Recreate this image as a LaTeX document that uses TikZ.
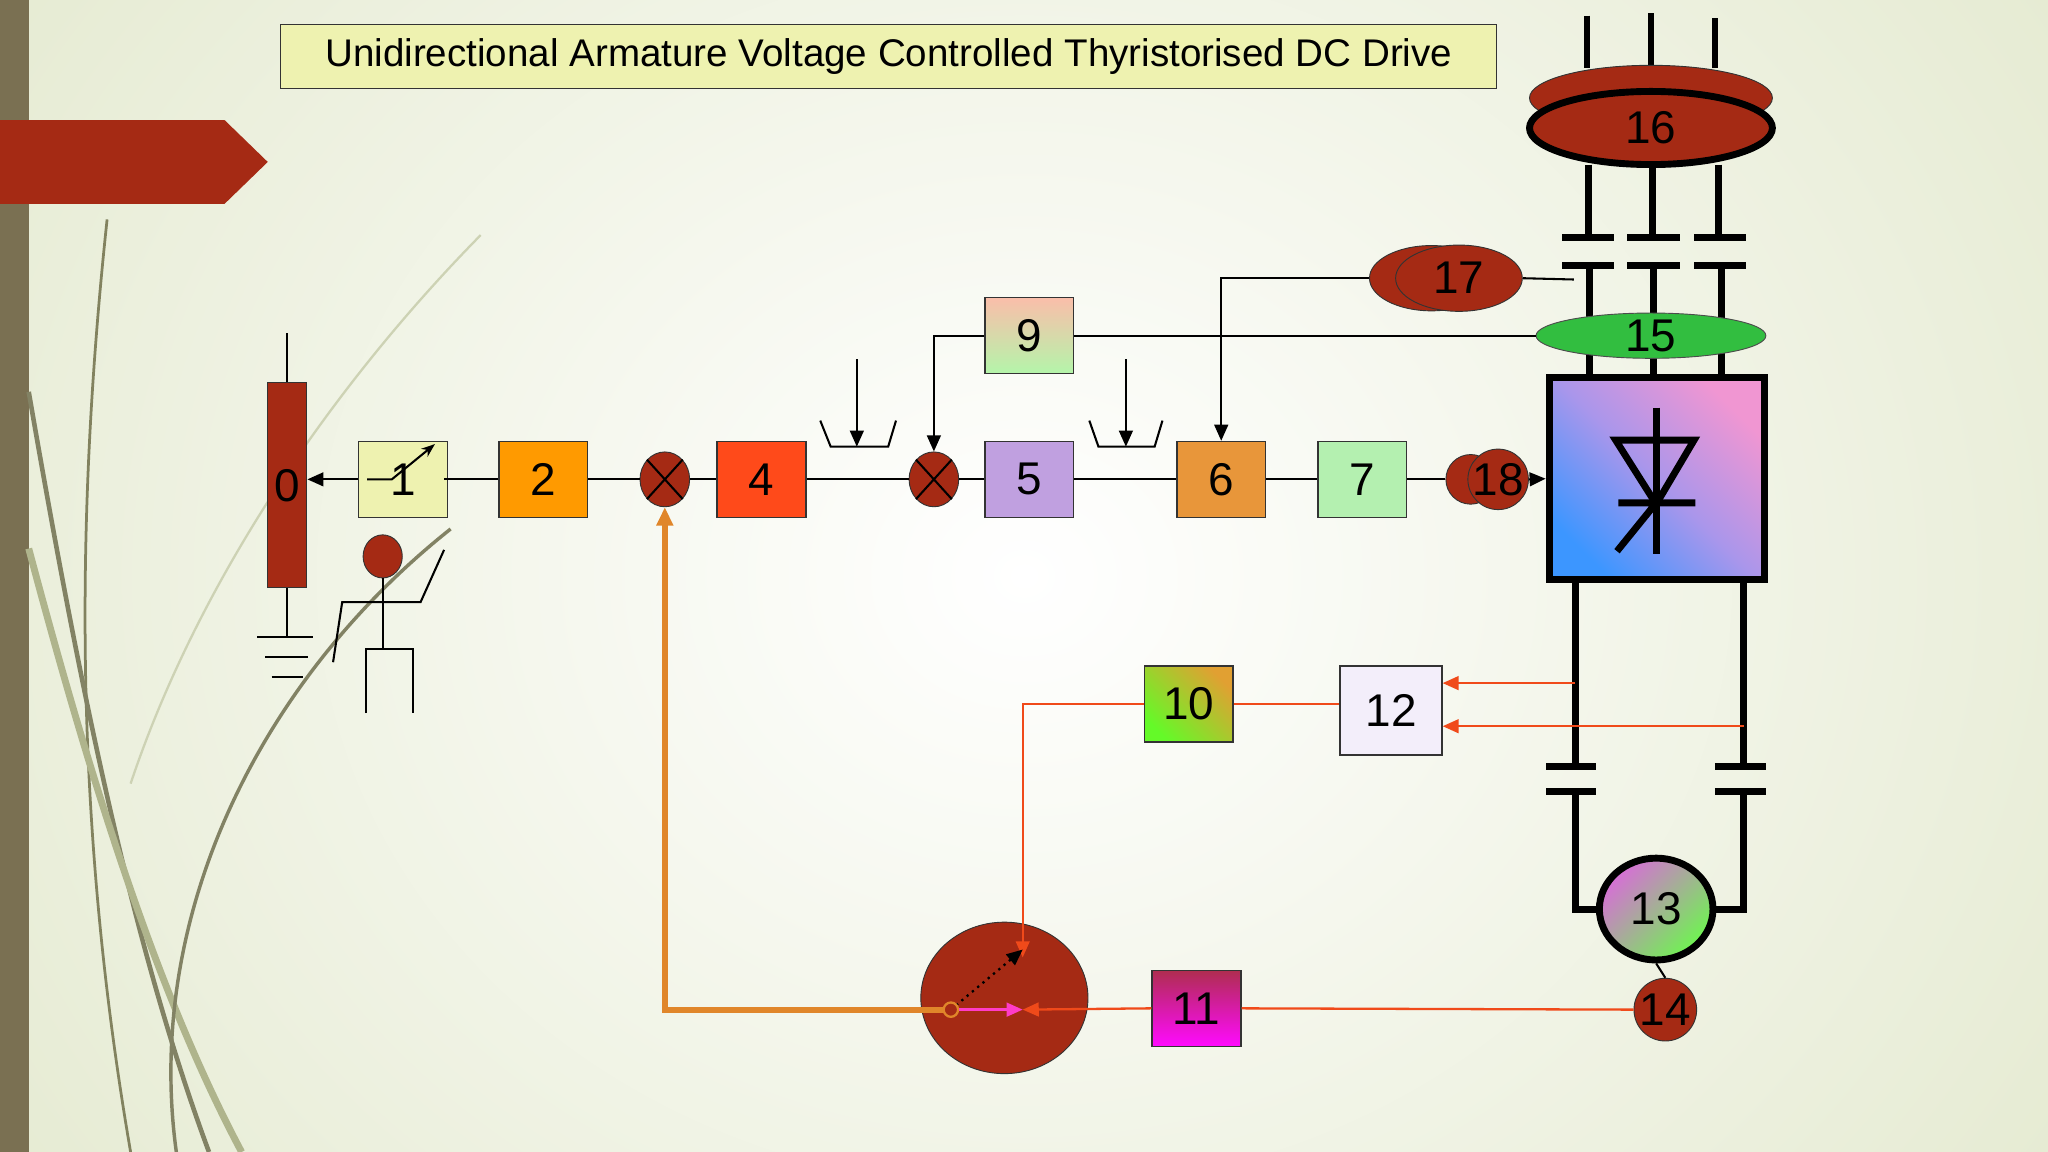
\documentclass[tikz,border=0pt]{standalone}
\usepackage{fontspec}
\setmainfont{Liberation Sans}
\usetikzlibrary{arrows.meta,shapes.geometric}
\definecolor{brn}{HTML}{A52A14}
\definecolor{pale}{HTML}{EEF2B0}
\definecolor{red2}{HTML}{F04A1A}
\definecolor{org}{HTML}{E0862A}
\definecolor{pnk}{HTML}{FF3CC8}
\definecolor{bgo}{HTML}{E2E8CC}
\begin{document}
\begin{tikzpicture}[x=0.02cm,y=-0.02cm,
 box/.style={draw=black!80,line width=0.6pt,minimum width=1.36cm,minimum height=1.16cm,inner sep=0pt,font=\fontsize{20}{22}\selectfont},
 sum/.style={ellipse,draw=black!80,fill=brn,minimum width=0.76cm,minimum height=0.84cm,inner sep=0pt},
 ln/.style={line width=0.9pt},
 thk/.style={line width=3pt},
 rl/.style={red2,line width=1pt},
 ar/.style={-{Triangle[length=7pt,width=6pt]}},
 num/.style={font=\fontsize{20}{22}\selectfont}]
\useasboundingbox (0,0) rectangle (1568,882);
\shade[inner color=white,outer color=bgo] (-300,-500) rectangle (1868,1382);
\fill[color={rgb,255:red,122;green,112;blue,82}] (0,0) rectangle (22,882);
% decorative curves
\draw[color={rgb,255:red,130;green,130;blue,95},line width=1.2pt] (82,168) .. controls (55,420) and (60,650) .. (100,882);
\draw[color={rgb,255:red,130;green,130;blue,100},line width=2pt] (22,300) .. controls (60,520) and (100,720) .. (160,882);
\draw[color={rgb,255:red,175;green,180;blue,140},line width=3pt] (22,420) .. controls (70,600) and (120,760) .. (185,882);
\draw[color={rgb,255:red,130;green,130;blue,100},line width=1.5pt] (345,405) .. controls (200,520) and (110,700) .. (135,882);
\draw[color={rgb,255:red,205;green,210;blue,180},line width=1pt] (368,180) .. controls (250,300) and (150,450) .. (100,600);
\fill[brn] (0,92) -- (172,92) -- (205,124) -- (172,156) -- (0,156) -- cycle;
% title
\node[draw=black!80,fill=pale,minimum width=18.62cm,minimum height=0.98cm,font=\fontsize{16.8}{18}\selectfont] (title) at (680.5,43.5) {Unidirectional Armature Voltage Controlled Thyristorised DC Drive};
% block 0
\node[draw=black!80,fill=brn,minimum width=0.6cm,minimum height=3.14cm,inner sep=0pt,num] (b0) at (220,371.5) {0};
\coordinate (b0t) at (220,255); \coordinate (b0g) at (220,488);
\draw[ln] (b0.north) -- (b0t); \draw[ln] (b0.south) -- (b0g);
\draw[ln] (197,488) -- (240,488) (203,503) -- (236,503) (208,518) -- (232,518);
% person
\node[ellipse,draw=black!80,fill=brn,minimum width=0.6cm,minimum height=0.66cm,inner sep=0pt] (head) at (293,426) {};
\draw[ln] (head.south) -- (293,497);
\draw[ln] (255,507) -- (262,461) -- (322,461) -- (340,421);
\draw[ln] (280,546) -- (280,497) -- (316,497) -- (316,546);
% boxes
\node[box,fill=pale] (b1) at (308.5,367) {1};
\draw[ln,-{Stealth[length=6pt]}] (281,367) -- (300,367) -- (333,340);
\draw[ln] (340,367) -- (352,367);
\node[box,fill={rgb,255:red,255;green,154;blue,0}] (b2) at (416,367) {2};
\node[sum] (s1) at (509,367) {};
\draw[ln] (s1.north west) -- (s1.south east) (s1.north east) -- (s1.south west);
\node[box,fill={rgb,255:red,255;green,74;blue,26}] (b4) at (583,367) {4};
\node[sum] (s2) at (715,367) {};
\draw[ln] (s2.north west) -- (s2.south east) (s2.north east) -- (s2.south west);
\node[box,top color={rgb,255:red,250;green,190;blue,170},bottom color={rgb,255:red,180;green,245;blue,170}] (b9) at (788,257) {9};
\node[box,fill={rgb,255:red,192;green,160;blue,224}] (b5) at (788,367) {5};
\node[box,fill={rgb,255:red,232;green,150;blue,58}] (b6) at (935,367) {6};
\node[box,fill={rgb,255:red,180;green,240;blue,176}] (b7) at (1043,367) {7};
% 18
\node[circle,draw=black!80,fill=brn,minimum size=0.76cm,inner sep=0pt] (c18a) at (1126,367) {};
\node[circle,draw=black!80,fill=brn,minimum size=0.76cm,inner sep=0pt,num] (c18) at (1147,367) {18};
% thyristor box
\node[draw=black,line width=3pt,minimum width=3.3cm,minimum height=3.1cm,inner sep=0pt,
 top color={rgb,255:red,240;green,150;blue,210},bottom color={rgb,255:red,60;green,150;blue,255},middle color={rgb,255:red,170;green,150;blue,235},shading angle=-45] (th) at (1268.5,366.5) {};
\draw[thk] (1268,312) -- (1268,424);
\draw[thk,line join=miter] (1237,337) -- (1297,337) -- (1268,386) -- cycle;
\draw[thk] (1239,385) -- (1298,385) (1268,385) -- (1238,422);
% signal chain
\draw[ln,ar] (b1.west) -- (b1.west -| b0.east);
\draw[ln] (b1.east) -- (b2.west) (b2.east) -- (s1.west) (s1.east) -- (b4.west) (b4.east) -- (s2.west) (s2.east) -- (b5.west) (b5.east) -- (b6.west) (b6.east) -- (b7.west) (b7.east) -- (c18a.west);
\draw[ln,ar] (c18.east) -- (th.west);
% limiters
\coordinate (l1) at (656,275); \coordinate (l1b) at (656,342);
\draw[ln] (628,322) -- (636,342) -- (680,342) -- (686,322);
\draw[ln,ar] (l1) -- (l1b);
\coordinate (l2) at (862,275); \coordinate (l2b) at (862,342);
\draw[ln] (834,322) -- (841,342) -- (884,342) -- (890,322);
\draw[ln,ar] (l2) -- (l2b);
% 9 to sum2
\draw[ln,ar] (b9.west) -| (s2.north);
% upper supply
\draw[thk] (1215,12) -- (1215,52) (1264,10) -- (1264,52) (1313,14) -- (1313,52);
\node[ellipse,draw=black!80,fill=brn,minimum width=3.72cm,minimum height=1.0cm] (e16b) at (1264,75) {};
\node[ellipse,draw=black,line width=3pt,fill=brn,minimum width=3.72cm,minimum height=1.12cm,num] (e16) at (1264,98) {16};
\draw[thk] (1216,126) -- (1216,182) (1265,126) -- (1265,182) (1316,126) -- (1316,182);
\draw[thk] (1196,182) -- (1236,182) (1246,182) -- (1286,182) (1297,182) -- (1337,182);
\draw[thk] (1196,203) -- (1236,203) (1246,203) -- (1286,203) (1297,203) -- (1337,203);
\draw[thk] (1217,203) -- (1217,289) (1266,203) -- (1266,289) (1318,203) -- (1318,289);
\node[ellipse,draw=black!70,fill={rgb,255:red,50;green,190;blue,64},minimum width=3.52cm,minimum height=0.58cm,inner sep=0pt,num] (e15) at (1264,257) {15};
\draw[ln] (b9.east) -- (e15.west);
% 17
\node[ellipse,draw=black!80,fill=brn,minimum width=1.9cm,minimum height=1.0cm] (e17b) at (1096,213) {};
\node[ellipse,draw=black!80,fill=brn,minimum width=1.94cm,minimum height=1.0cm,num] (e17) at (1117,213) {17};
\coordinate (e17r) at (1205,214);
\draw[ln] (e17.east) -- (e17r);
\draw[ln,ar] (e17b.west) -| (b6.north);
% DC side
\draw[thk] (1206,444) -- (1206,585) (1335,444) -- (1335,585);
\draw[thk] (1184,587) -- (1222,587) (1313,587) -- (1352,587);
\draw[thk] (1184,606) -- (1222,606) (1313,606) -- (1352,606);
\node[ellipse,draw=black,line width=3pt,minimum width=1.74cm,minimum height=1.56cm,inner sep=0pt,num,
 top color={rgb,255:red,215;green,110;blue,215},bottom color={rgb,255:red,110;green,245;blue,80},shading angle=45] (m13) at (1268,696) {13};
\draw[thk] (1206,606) |- (m13.west);
\draw[thk] (1335,606) |- (m13.east);
\node[circle,draw=black!80,fill=brn,minimum width=0.96cm,inner sep=0pt,num] (c14) at (1275,773) {14};
\draw[ln] (m13.south) -- (c14.north);
% feedback
\node[box,minimum width=1.56cm,minimum height=1.36cm,fill={rgb,255:red,243;green,238;blue,250}] (b12) at (1065,544) {12};
\coordinate (f1) at (1206,523); \coordinate (f2) at (1335,556);
\draw[rl,ar] (f1) -- (b12.east |- f1);
\draw[rl,ar] (f2) -- (b12.east |- f2);
\node[box,top color={rgb,255:red,225;green,160;blue,50},bottom color={rgb,255:red,100;green,250;blue,40},shading angle=-45] (b10) at (910,539) {10};
\draw[red2,line width=0.8pt] (b12.west |- b10.east) -- (b10.east);
\node[ellipse,draw=black!80,fill=brn,minimum width=2.56cm,minimum height=2.32cm] (big) at (769,764) {};
\coordinate (tip) at (783,733); \coordinate (hub) at (728,773); \coordinate (mid) at (783,773);
\draw[red2,line width=0.8pt,ar] (b10.west) -| (tip);
\node[box,top color={rgb,255:red,175;green,45;blue,80},bottom color={rgb,255:red,255;green,10;blue,255}] (b11) at (916,772) {11};
\draw[rl] (c14.west) -- (b11.east);
\draw[rl,ar] (b11.west) -- (mid);
\draw[pnk,line width=1pt,ar] (hub) -- (mid);
\draw[dotted,line width=1pt,ar] (hub) -- (783,727);
\draw[org,line width=2.5pt,-{Triangle[length=8pt,width=7pt]}] (hub) -| (s1.south);
\node[circle,draw=org,line width=1pt,fill=brn,minimum size=0.22cm,inner sep=0pt] (hubc) at (hub) {};
\end{tikzpicture}
\end{document}
